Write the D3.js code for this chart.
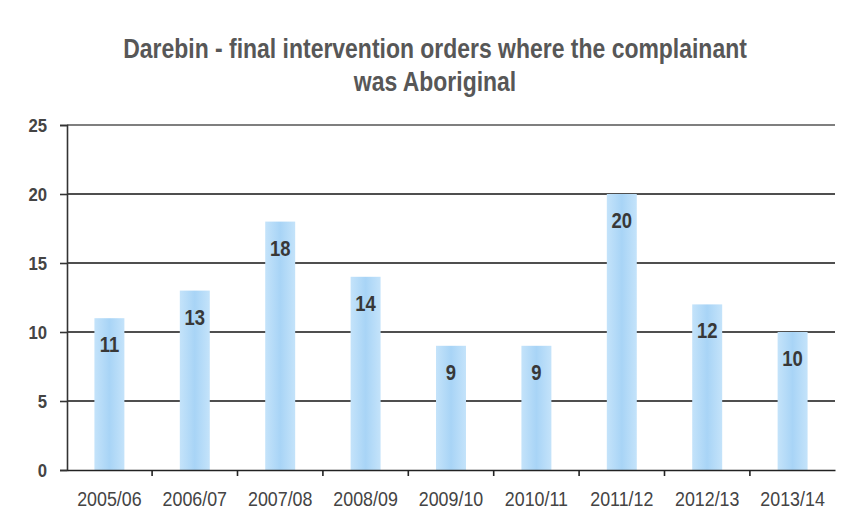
<!DOCTYPE html>
<html><head><meta charset="utf-8">
<script src="https://cdn.jsdelivr.net/npm/d3@7"></script>
<style>
body{margin:0;background:#fff;}
text{font-family:"Liberation Sans","Arial",sans-serif;}
</style></head>
<body><svg id="c" width="849" height="520"></svg>
<script>
const categories = ["2005/06","2006/07","2007/08","2008/09","2009/10","2010/11","2011/12","2012/13","2013/14"];
const values = [11,13,18,14,9,9,20,12,10];
const yTicks = [0,5,10,15,20,25];
const titleLines = ["Darebin - final intervention orders where the complainant","was Aboriginal"];

const svg = d3.select("#c");
const m = {l:67, r:835, t:125, b:470};
const x = d3.scaleBand().domain(categories).range([m.l, m.r]).paddingInner(0.649).paddingOuter(0.321);
const y = d3.scaleLinear().domain([0,25]).range([m.b, m.t]);

// condensed text: group translated to anchor point, scaled horizontally
function narrowText(parent, data, px, py, size, weight, fill, anchor, f){
  const gg = parent.selectAll(null).data(data).join("g")
    .attr("transform",(d,i)=>`translate(${px(d,i)},${py(d,i)}) scale(${f},1)`);
  gg.append("text").attr("x",0).attr("y",0)
    .attr("text-anchor",anchor).attr("font-size",size).attr("font-weight",weight)
    .attr("fill",fill).text(d=>d);
  return gg;
}

const defs = svg.append("defs");
const g = defs.append("linearGradient").attr("id","bg").attr("x1","0").attr("x2","1");
g.append("stop").attr("offset","0").attr("stop-color","#c4e3fa");
g.append("stop").attr("offset","0.5").attr("stop-color","#a8d4f6");
g.append("stop").attr("offset","1").attr("stop-color","#c4e3fa");

// title
narrowText(svg.append("g"), titleLines, ()=>435, (d,i)=>58+i*33, 28, "bold", "#575757", "middle", 0.82);

// gridlines
svg.append("g").selectAll("line").data(yTicks.filter(d=>d>0)).join("line")
  .attr("x1", m.l).attr("x2", m.r).attr("y1", d=>y(d)).attr("y2", d=>y(d))
  .attr("stroke", d=>d===25?"#555":"#151515").attr("stroke-width",1.6);

// y axis
const ya = svg.append("g").attr("transform",`translate(${m.l},0)`)
  .call(d3.axisLeft(y).tickValues(yTicks).tickSize(7).tickFormat(""));
ya.select(".domain").attr("stroke","#333").attr("stroke-width",1.6);
ya.selectAll(".tick line").attr("stroke","#333").attr("stroke-width",1.6);
narrowText(svg.append("g"), yTicks, ()=>47, d=>y(d)+7, 19, "bold", "#444", "end", 0.88);

// bars
svg.append("g").selectAll("rect").data(values).join("rect")
  .attr("x",(d,i)=>x(categories[i])).attr("width",x.bandwidth())
  .attr("y",d=>y(d)).attr("height",d=>y(0)-y(d)).attr("fill","url(#bg)");

// value labels
narrowText(svg.append("g"), values, (d,i)=>x(categories[i])+x.bandwidth()/2, d=>y(d)+34,
  22, "bold", "#383838", "middle", 0.84);

// x axis
const xa = svg.append("g").attr("transform",`translate(0,${m.b})`)
  .call(d3.axisBottom(x).tickSize(0).tickFormat(""));
xa.select(".domain").attr("stroke","#222").attr("stroke-width",1.6);
narrowText(svg.append("g"), categories, d=>x(d)+x.bandwidth()/2, ()=>506, 21, "normal", "#444", "middle", 0.85);

// category separator ticks
const step = x.step();
svg.append("g").selectAll("line").data(categories.slice(0,-1)).join("line")
  .attr("x1",d=>x(d)+x.bandwidth()/2+step/2).attr("x2",d=>x(d)+x.bandwidth()/2+step/2)
  .attr("y1",m.b).attr("y2",m.b+6).attr("stroke","#222").attr("stroke-width",1.6);
</script></body></html>
